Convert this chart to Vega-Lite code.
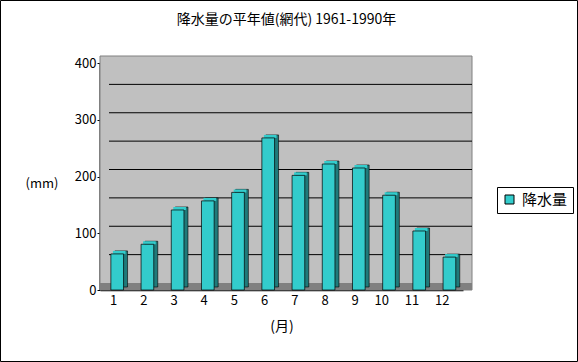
{
  "$schema": "https://vega.github.io/schema/vega-lite/v6.json",
  "autosize": "none",
  "width": 363,
  "height": 227,
  "padding": {"left": 100, "top": 63, "right": 115, "bottom": 72},
  "background": "white",
  "title": {
    "text": "降水量の平年値(網代) 1961-1990年",
    "fontSize": 14,
    "fontWeight": "normal",
    "font": "Noto Sans CJK JP",
    "color": "black",
    "anchor": "middle",
    "frame": "group",
    "offset": -26.5,
    "dx": 5
  },
  "config": {
    "font": "Noto Sans CJK JP",
    "view": {"stroke": null},
    "axis": {"labelColor": "black", "titleColor": "black", "labelFont": "Noto Sans CJK JP", "titleFont": "Noto Sans CJK JP", "labelOverlap": false},
    "axisQuantitative": {"tickCount": 8, "labelOverlap": false}
  },
  "datasets": {
    "rain": [
      {"month": 1, "value": 63.6, "series": "降水量"},
      {"month": 2, "value": 80.6, "series": "降水量"},
      {"month": 3, "value": 141, "series": "降水量"},
      {"month": 4, "value": 157, "series": "降水量"},
      {"month": 5, "value": 172, "series": "降水量"},
      {"month": 6, "value": 268, "series": "降水量"},
      {"month": 7, "value": 202, "series": "降水量"},
      {"month": 8, "value": 222, "series": "降水量"},
      {"month": 9, "value": 215, "series": "降水量"},
      {"month": 10, "value": 167, "series": "降水量"},
      {"month": 11, "value": 104, "series": "降水量"},
      {"month": 12, "value": 58, "series": "降水量"}
    ],
    "grid": [
      {"g": 50}, {"g": 100}, {"g": 150}, {"g": 200}, {"g": 250}, {"g": 300}, {"g": 350}
    ],
    "one": [{}]
  },
  "layer": [
    {
      "data": {"name": "one"},
      "mark": {"type": "rect", "fill": null, "stroke": "black", "strokeWidth": 1, "xOffset": -99.5, "x2Offset": 114.5, "yOffset": -62.5, "y2Offset": 71.5},
      "encoding": {
        "x": {"value": 0},
        "x2": {"value": "width"},
        "y": {"value": 0},
        "y2": {"value": "height"}
      }
    },
    {
      "data": {"name": "rain"},
      "mark": {"type": "bar", "stroke": "black", "strokeWidth": 0.7, "opacity": 0},
      "encoding": {
        "x": {"field": "month", "type": "ordinal"},
        "y": {
          "field": "value",
          "type": "quantitative",
          "scale": {"domain": [0, 400], "nice": false},
          "axis": {
            "values": [0, 50, 100, 150, 200, 250, 300, 350, 400],
            "tickCount": 8,
            "labelOverlap": false,
            "labelSeparation": 0,
            "grid": false,
            "title": "(mm)",
            "titleAngle": 0,
            "titleX": -75,
            "titleY": 120,
            "titleAlign": "left",
            "titleBaseline": "middle",
            "titleFontSize": 13,
            "titleFontWeight": "normal",
            "labelFontSize": 13,
            "labelPadding": 1,
            "tickSize": 3,
            "tickColor": "black",
            "tickWidth": 1,
            "domainColor": "black",
            "domainWidth": 2
          }
        }
      }
    },
    {
      "data": {"name": "one"},
      "mark": {"type": "rect", "fill": "#c0c0c0", "stroke": "#808080", "strokeWidth": 1, "xOffset": 0, "x2Offset": 9, "yOffset": -7, "y2Offset": 0},
      "encoding": {
        "x": {"value": 0},
        "x2": {"value": "width"},
        "y": {"datum": 400, "type": "quantitative"},
        "y2": {"datum": 0}
      }
    },
    {
      "data": {"name": "one"},
      "mark": {"type": "rect", "fill": "#808080", "xOffset": 0, "x2Offset": 9, "yOffset": -7, "y2Offset": 0},
      "encoding": {
        "x": {"value": 0},
        "x2": {"value": "width"},
        "y": {"datum": 0, "type": "quantitative"},
        "y2": {"datum": 0}
      }
    },
    {
      "data": {"name": "grid"},
      "mark": {"type": "rule", "color": "black", "strokeWidth": 1, "xOffset": 9, "x2Offset": 9, "yOffset": -7},
      "encoding": {
        "x": {"value": 0},
        "x2": {"value": "width"},
        "y": {"field": "g", "type": "quantitative"}
      }
    },
    {
      "data": {"name": "rain"},
      "mark": {"type": "bar", "fill": "#1f7a7a", "stroke": "black", "strokeWidth": 0.6, "xOffset": 4, "x2Offset": 4, "yOffset": -3, "y2Offset": -3},
      "encoding": {
        "x": {"field": "month", "type": "ordinal"},
        "y": {"field": "value", "type": "quantitative"}
      }
    },
    {
      "data": {"name": "rain"},
      "mark": {"type": "bar", "fill": "#33cccc", "xOffset": 2, "x2Offset": 2, "yOffset": -3, "y2Offset": 0},
      "encoding": {
        "x": {"field": "month", "type": "ordinal"},
        "y": {"field": "value", "type": "quantitative"},
        "y2": {"field": "value"}
      }
    },
    {
      "data": {"name": "rain"},
      "mark": {"type": "bar", "stroke": "black", "strokeWidth": 0.7, "opacity": 1},
      "encoding": {
        "x": {
          "field": "month",
          "type": "ordinal",
          "scale": {"paddingInner": 0.58, "paddingOuter": 0.3, "align": 0.6},
          "axis": {
            "title": "(月)",
            "titleFontSize": 14,
            "titleFontWeight": "normal",
            "titlePadding": 12,
            "labelAngle": 0,
            "labelFontSize": 13,
            "labelPadding": 10,
            "ticks": false,
            "domainColor": "black",
            "domainWidth": 1.5
          }
        },
        "y": {"field": "value", "type": "quantitative"},
        "color": {
          "field": "series",
          "type": "nominal",
          "scale": {"range": ["#33cccc"]},
          "legend": {
            "title": null,
            "orient": "none",
            "legendX": 397,
            "legendY": 124,
            "padding": 5,
            "strokeColor": "black",
            "fillColor": "white",
            "symbolType": "square",
            "symbolSize": 81,
            "symbolStrokeColor": "black",
            "symbolStrokeWidth": 1,
            "symbolOpacity": 1,
            "labelFontSize": 15,
            "labelColor": "black",
            "labelFont": "Noto Sans CJK JP",
            "labelOffset": 5
          }
        }
      }
    }
  ]
}
